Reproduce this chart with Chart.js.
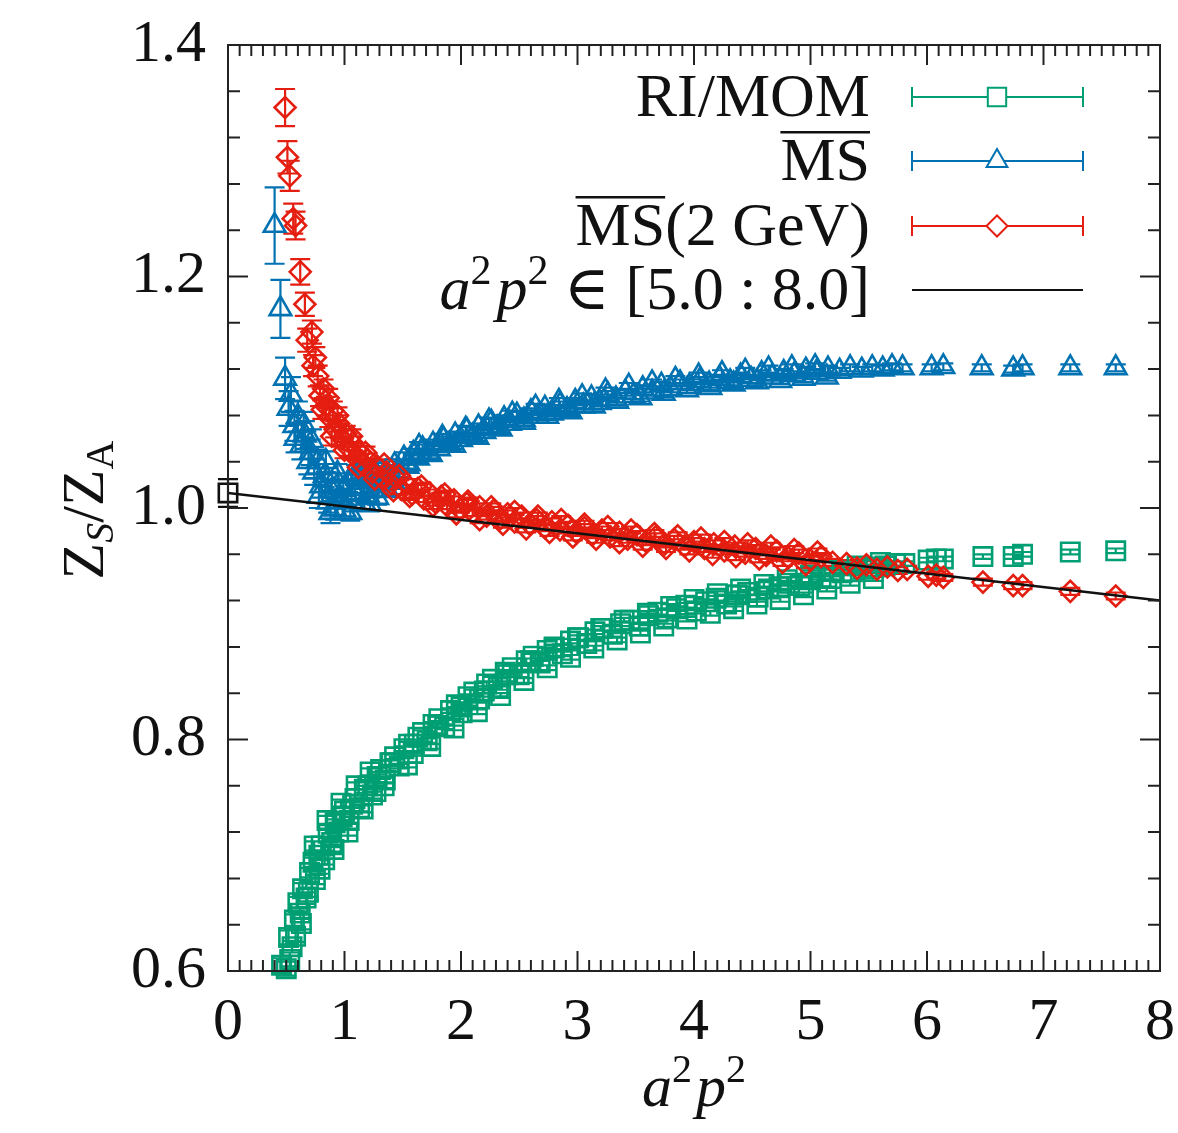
<!DOCTYPE html>
<html>
<head>
<meta charset="utf-8">
<script src="https://cdn.jsdelivr.net/npm/chart.js@4.4.0/dist/chart.umd.min.js"></script>
<style>
  html, body { margin: 0; padding: 0; background: #fff; }
</style>
</head>
<body>
<canvas id="myChart" width="1178" height="1133"></canvas>
<script>
// Data: [a2p2, value, error]
const riMom = [
  [0.46,0.605,0.006],[0.50,0.602,0.006],[0.53,0.610,0.006],[0.52,0.629,0.006],[0.55,0.621,0.005],
  [0.57,0.644,0.005],[0.60,0.659,0.005],[0.62,0.650,0.005],[0.64,0.671,0.005],[0.67,0.663,0.005],
  [0.70,0.685,0.004],[0.73,0.694,0.004],[0.75,0.679,0.004],[0.78,0.700,0.004],[0.80,0.708,0.004],
  [0.83,0.696,0.004],[0.86,0.719,0.004],[0.89,0.711,0.004],[0.92,0.728,0.003],[0.95,0.720,0.003],
  [0.98,0.733,0.003],[1.00,0.738,0.003],[1.04,0.730,0.003],[1.07,0.744,0.003],[1.09,0.749,0.003],
  [1.13,0.741,0.003],[1.17,0.757,0.003],[1.20,0.760,0.003],[1.24,0.752,0.003],[1.28,0.768,0.002],
  [1.31,0.774,0.002],[1.35,0.765,0.002],[1.39,0.780,0.002],[1.43,0.785,0.002],[1.47,0.777,0.002],
  [1.51,0.792,0.002],[1.55,0.796,0.002],[1.59,0.788,0.002],[1.63,0.802,0.002],[1.67,0.806,0.002],
  [1.71,0.799,0.002],[1.76,0.813,0.002],[1.81,0.818,0.002],[1.86,0.811,0.002],[1.91,0.825,0.002],
  [1.96,0.830,0.002],[2.01,0.823,0.002],[2.06,0.837,0.002],[2.11,0.841,0.002],[2.16,0.835,0.002],
  [2.22,0.848,0.002],[2.27,0.852,0.002],[2.32,0.845,0.002],[2.38,0.858,0.002],[2.44,0.862,0.002],
  [2.50,0.856,0.002],[2.56,0.868,0.002],[2.62,0.872,0.002],[2.68,0.866,0.002],[2.74,0.877,0.002],
  [2.80,0.880,0.002],[2.87,0.874,0.002],[2.94,0.885,0.002],[3.01,0.888,0.002],[3.08,0.883,0.002],
  [3.15,0.893,0.002],[3.22,0.896,0.002],[3.30,0.891,0.002],[3.37,0.900,0.002],[3.45,0.903,0.002],
  [3.53,0.898,0.002],[3.61,0.907,0.002],[3.69,0.910,0.002],[3.77,0.905,0.002],[3.85,0.913,0.002],
  [3.93,0.916,0.002],[4.02,0.911,0.002],[4.10,0.919,0.002],[4.19,0.922,0.002],[4.28,0.917,0.002],
  [4.37,0.925,0.002],[4.46,0.927,0.002],[4.55,0.923,0.002],[4.64,0.930,0.002],[4.73,0.932,0.002],
  [4.82,0.935,0.002],[4.91,0.933,0.002],[5.00,0.938,0.002],[5.09,0.940,0.002],[5.18,0.939,0.002],
  [5.27,0.944,0.002],[5.36,0.945,0.002],[5.45,0.947,0.002],[5.55,0.949,0.002],[5.64,0.950,0.002],
  [5.73,0.952,0.002],[5.81,0.952,0.002],[6.01,0.955,0.002],[6.08,0.956,0.002],[6.14,0.956,0.002],
  [6.48,0.958,0.002],[6.74,0.958,0.002],[6.82,0.960,0.002],[7.23,0.962,0.002],[7.62,0.963,0.002],
  // scatter around the band
  [0.58,0.630,0.005],[0.63,0.641,0.005],[0.69,0.668,0.004],[0.74,0.708,0.004],[0.79,0.688,0.004],
  [0.85,0.730,0.004],[0.91,0.705,0.004],[0.97,0.745,0.003],[1.03,0.720,0.003],[1.10,0.760,0.003],
  [1.16,0.740,0.003],[1.22,0.772,0.003],[1.27,0.755,0.003],
  [1.34,0.760,0.002],[1.54,0.778,0.002],[1.74,0.794,0.002],[1.94,0.810,0.002],[2.14,0.824,0.002],
  [2.34,0.838,0.002],[2.54,0.851,0.002],[2.74,0.862,0.002],[2.94,0.871,0.002],[3.14,0.879,0.002],
  [3.34,0.886,0.002],[3.54,0.892,0.002],[3.74,0.898,0.002],[3.94,0.904,0.002],[4.14,0.909,0.002],
  [4.34,0.913,0.002],[4.54,0.917,0.002],[4.74,0.921,0.002],[4.94,0.925,0.002],[5.14,0.930,0.002],
  [5.34,0.935,0.002],[5.54,0.939,0.002],
  [1.40,0.780,0.002],[1.60,0.796,0.002],[1.80,0.812,0.002],[2.00,0.828,0.002],[2.20,0.842,0.002],
  [2.40,0.856,0.002],[2.60,0.868,0.002],[2.80,0.879,0.002],[3.00,0.888,0.002],[3.20,0.896,0.002],
  [3.40,0.903,0.002],[3.60,0.909,0.002],[3.80,0.915,0.002],[4.00,0.921,0.002],[4.20,0.926,0.002],
  [4.40,0.930,0.002],[4.60,0.934,0.002],[4.80,0.938,0.002],[5.00,0.942,0.002],[5.20,0.946,0.002],
  [5.40,0.950,0.002],[5.60,0.953,0.002]
];

const msBar = [
  [0.40,1.244,0.033],[0.45,1.172,0.025],[0.49,1.112,0.018],[0.52,1.086,0.015],[0.54,1.098,0.015],
  [0.57,1.071,0.013],[0.60,1.079,0.013],[0.63,1.054,0.012],[0.66,1.063,0.012],[0.69,1.040,0.011],
  [0.71,1.048,0.011],[0.74,1.031,0.011],[0.77,1.040,0.010],[0.80,1.019,0.010],[0.83,1.028,0.010],
  [0.86,1.005,0.009],[0.89,1.015,0.009],[0.92,0.999,0.009],[0.95,1.021,0.009],[0.97,1.008,0.008],
  [1.00,0.998,0.008],[1.03,1.022,0.008],[1.06,1.005,0.008],[1.09,1.013,0.007],[1.12,1.026,0.007],
  [1.14,1.018,0.007],[1.17,1.004,0.007],[1.20,1.011,0.007],[1.23,1.023,0.006],[1.26,1.016,0.006],
  [1.29,1.033,0.006],[1.32,1.021,0.006],[1.35,1.030,0.006],[1.39,1.026,0.005],[1.43,1.037,0.005],
  [1.47,1.032,0.005],[1.51,1.043,0.005],[1.55,1.038,0.004],[1.59,1.047,0.004],[1.63,1.043,0.004],
  [1.67,1.051,0.004],[1.72,1.047,0.004],[1.76,1.055,0.004],[1.81,1.051,0.003],[1.85,1.059,0.003],
  [1.90,1.055,0.003],[1.95,1.063,0.003],[2.00,1.059,0.003],[2.05,1.067,0.003],[2.10,1.062,0.003],
  [2.15,1.070,0.003],[2.20,1.066,0.003],[2.26,1.074,0.003],[2.31,1.069,0.003],[2.37,1.077,0.003],
  [2.42,1.073,0.003],[2.48,1.080,0.003],[2.54,1.076,0.003],[2.60,1.083,0.003],[2.66,1.079,0.003],
  [2.72,1.086,0.003],[2.78,1.082,0.003],[2.85,1.089,0.003],[2.91,1.085,0.003],[2.98,1.092,0.003],
  [3.05,1.088,0.003],[3.12,1.095,0.003],[3.19,1.091,0.003],[3.26,1.098,0.003],[3.33,1.094,0.003],
  [3.41,1.100,0.003],[3.48,1.097,0.003],[3.56,1.103,0.003],[3.64,1.100,0.003],[3.72,1.106,0.003],
  [3.80,1.103,0.003],[3.88,1.108,0.003],[3.96,1.105,0.003],[4.05,1.110,0.003],[4.13,1.107,0.003],
  [4.22,1.112,0.003],[4.31,1.109,0.003],[4.40,1.114,0.003],[4.49,1.111,0.003],[4.58,1.116,0.003],
  [4.67,1.113,0.003],[4.77,1.117,0.003],[4.86,1.115,0.003],[4.96,1.119,0.003],[5.05,1.117,0.003],
  [5.15,1.120,0.003],[5.25,1.118,0.003],[5.34,1.121,0.003],[5.44,1.119,0.003],[5.53,1.121,0.003],
  [5.62,1.120,0.003],[5.70,1.122,0.003],[5.79,1.121,0.003],[6.04,1.121,0.003],[6.14,1.122,0.003],
  [6.47,1.121,0.003],[6.74,1.120,0.003],[6.82,1.121,0.003],[7.23,1.121,0.003],[7.62,1.121,0.003],
  // scatter around the band
  [0.58,1.060,0.012],[0.65,1.072,0.011],[0.72,1.058,0.010],[0.78,1.010,0.010],[0.84,1.040,0.009],
  [0.88,0.996,0.009],[0.94,1.030,0.008],[0.99,1.016,0.008],[1.05,0.996,0.007],[1.10,1.030,0.007],
  [1.16,1.028,0.006],[1.22,1.003,0.006],[1.28,1.009,0.006],[1.37,1.015,0.005],[1.42,1.022,0.005],
  [1.54,1.036,0.004],[1.74,1.046,0.003],[1.94,1.054,0.003],[2.14,1.061,0.003],[2.34,1.068,0.003],
  [2.54,1.074,0.003],[2.74,1.079,0.003],[2.94,1.083,0.003],[3.14,1.088,0.003],[3.34,1.092,0.003],
  [3.54,1.095,0.003],[3.74,1.099,0.003],[3.94,1.102,0.003],[4.14,1.104,0.003],[4.34,1.107,0.003],
  [4.54,1.109,0.003],[4.74,1.110,0.003],[4.94,1.112,0.003],[5.14,1.113,0.003],
  [1.64,1.053,0.004],[1.84,1.061,0.003],[2.04,1.068,0.003],[2.24,1.075,0.003],[2.44,1.081,0.003],
  [2.64,1.087,0.003],[2.84,1.092,0.003],[3.04,1.096,0.003],[3.24,1.101,0.003],[3.44,1.105,0.003],
  [3.64,1.108,0.003],[3.84,1.111,0.003],[4.04,1.114,0.003],[4.24,1.116,0.003],[4.44,1.118,0.003],
  [4.64,1.120,0.003],[4.84,1.121,0.003],[5.04,1.122,0.003]
];

const msBar2GeV = [
  [0.49,1.346,0.016],[0.51,1.303,0.014],[0.53,1.287,0.013],[0.56,1.250,0.013],[0.58,1.244,0.012],
  [0.62,1.204,0.011],[0.66,1.176,0.010],[0.68,1.145,0.010],[0.72,1.152,0.010],[0.73,1.123,0.009],
  [0.77,1.114,0.009],[0.79,1.097,0.009],[0.82,1.103,0.008],[0.84,1.088,0.008],[0.87,1.078,0.008],
  [0.90,1.084,0.008],[0.92,1.068,0.007],[0.95,1.073,0.007],[0.98,1.060,0.007],[1.01,1.064,0.007],
  [1.04,1.051,0.006],[1.07,1.056,0.006],[1.10,1.043,0.006],[1.13,1.048,0.006],[1.16,1.037,0.005],
  [1.20,1.042,0.005],[1.24,1.031,0.005],[1.28,1.036,0.005],[1.32,1.026,0.004],[1.36,1.031,0.004],
  [1.40,1.021,0.004],[1.44,1.026,0.004],[1.49,1.016,0.004],[1.53,1.021,0.004],[1.58,1.012,0.003],
  [1.63,1.017,0.003],[1.68,1.008,0.003],[1.73,1.013,0.003],[1.78,1.005,0.003],[1.83,1.010,0.003],
  [1.88,1.002,0.003],[1.94,1.007,0.003],[1.99,0.999,0.003],[2.05,1.004,0.003],[2.10,0.996,0.003],
  [2.16,1.001,0.003],[2.22,0.993,0.003],[2.28,0.998,0.003],[2.34,0.991,0.003],[2.40,0.995,0.003],
  [2.46,0.988,0.003],[2.52,0.993,0.003],[2.59,0.986,0.003],[2.65,0.990,0.003],[2.72,0.983,0.003],
  [2.78,0.988,0.003],[2.85,0.981,0.003],[2.92,0.985,0.003],[2.99,0.979,0.003],[3.06,0.983,0.003],
  [3.13,0.977,0.003],[3.21,0.981,0.003],[3.28,0.975,0.003],[3.36,0.979,0.003],[3.43,0.973,0.003],
  [3.51,0.977,0.003],[3.59,0.971,0.003],[3.67,0.975,0.003],[3.75,0.969,0.003],[3.83,0.973,0.003],
  [3.92,0.967,0.003],[4.00,0.971,0.003],[4.09,0.965,0.003],[4.17,0.969,0.003],[4.26,0.963,0.003],
  [4.35,0.967,0.003],[4.44,0.961,0.003],[4.53,0.965,0.003],[4.62,0.959,0.003],[4.71,0.963,0.003],
  [4.81,0.957,0.003],[4.90,0.961,0.003],[5.00,0.955,0.003],[5.09,0.958,0.003],[5.19,0.953,0.003],
  [5.31,0.952,0.003],[5.40,0.948,0.003],[5.48,0.951,0.003],[5.57,0.947,0.003],[5.66,0.949,0.003],
  [5.75,0.946,0.003],[5.83,0.947,0.003],[6.01,0.941,0.003],[6.08,0.942,0.003],[6.14,0.940,0.003],
  [6.48,0.936,0.003],[6.74,0.933,0.003],[6.82,0.933,0.003],[7.23,0.928,0.003],[7.62,0.924,0.003],
  // scatter around the band
  [0.75,1.130,0.009],[0.81,1.085,0.008],[0.86,1.095,0.008],[0.89,1.062,0.008],[0.94,1.080,0.007],
  [1.00,1.050,0.007],[1.06,1.062,0.006],[1.12,1.035,0.006],[1.18,1.048,0.005],[1.26,1.025,0.005],
  [1.34,1.038,0.004],[1.42,1.015,0.004],[1.47,1.028,0.004],
  [1.56,1.010,0.003],[1.76,1.002,0.003],[1.96,0.995,0.003],[2.16,0.990,0.003],[2.36,0.986,0.003],
  [2.56,0.982,0.003],[2.76,0.979,0.003],[2.96,0.975,0.003],[3.16,0.973,0.003],[3.36,0.970,0.003],
  [3.56,0.967,0.003],[3.76,0.965,0.003],[3.96,0.963,0.003],[4.16,0.960,0.003],[4.36,0.958,0.003],
  [4.56,0.956,0.003],[4.76,0.953,0.003],[4.96,0.951,0.003],
  [1.66,1.019,0.003],[1.86,1.012,0.003],[2.06,1.006,0.003],[2.26,1.001,0.003],[2.46,0.997,0.003],
  [2.66,0.993,0.003],[2.86,0.990,0.003],[3.06,0.986,0.003],[3.26,0.984,0.003],[3.46,0.981,0.003],
  [3.66,0.978,0.003],[3.86,0.976,0.003],[4.06,0.974,0.003],[4.26,0.971,0.003],[4.46,0.969,0.003],
  [4.66,0.967,0.003],[4.86,0.964,0.003],[5.06,0.962,0.003]
];

// extrapolated value at a2p2 = 0 and the linear fit over [5.0 : 8.0]
const extrapolated = [[0, 1.013, 0.012]];
const fitLine = [[0, 1.013], [8, 0.920]];

const xTicks = [0, 1, 2, 3, 4, 5, 6, 7, 8];
const yTickLabels = ['0.6', '0.8', '1.0', '1.2', '1.4'];

const GREEN = '#009e73';
const BLUE = '#0072b2';
const RED = '#e41e10';
const SERIF = '"Liberation Serif", "DejaVu Serif", serif';

const toPoints = arr => arr.map(d => ({ x: d[0], y: d[1] }));
const toErrors = arr => arr.map(d => d[2]);

// error bars, drawn under the markers
const errorBars = {
    id: 'errorBars',
    beforeDatasetsDraw(chart) {
        const { ctx, scales: { x, y } } = chart;
        chart.data.datasets.forEach(ds => {
            if (!ds.errors) return;
            ctx.save();
            ctx.strokeStyle = ds.borderColor;
            ctx.lineWidth = 2.2;
            ctx.beginPath();
            ds.data.forEach((p, i) => {
                const e = ds.errors[i];
                const px = x.getPixelForValue(p.x);
                const top = y.getPixelForValue(p.y + e);
                const bot = y.getPixelForValue(p.y - e);
                const cap = 10;
                ctx.moveTo(px, top); ctx.lineTo(px, bot);
                ctx.moveTo(px - cap, top); ctx.lineTo(px + cap, top);
                ctx.moveTo(px - cap, bot); ctx.lineTo(px + cap, bot);
            });
            ctx.stroke();
            ctx.restore();
        });
    }
};

// box with inward ticks on all four sides
const frame = {
    id: 'frame',
    afterDatasetsDraw(chart) {
        const { ctx, chartArea: a, scales: { x, y } } = chart;
        ctx.save();
        ctx.strokeStyle = '#222';
        ctx.lineWidth = 2;
        ctx.strokeRect(a.left, a.top, a.right - a.left, a.bottom - a.top);
        ctx.beginPath();
        for (let i = 0; i <= 80; i++) {
            const px = x.getPixelForValue(i / 10);
            const len = i % 10 === 0 ? 20 : 11;
            ctx.moveTo(px, a.bottom); ctx.lineTo(px, a.bottom - len);
            ctx.moveTo(px, a.top); ctx.lineTo(px, a.top + len);
        }
        for (let i = 0; i <= 20; i++) {
            const py = y.getPixelForValue(0.6 + i * 0.04);
            const len = i % 5 === 0 ? 20 : 12;
            ctx.moveTo(a.left, py); ctx.lineTo(a.left + len, py);
            ctx.moveTo(a.right, py); ctx.lineTo(a.right - len, py);
        }
        ctx.stroke();
        ctx.restore();
    }
};

function drawRuns(ctx, runs, x, y, align) {
    let w = 0;
    runs.forEach(r => { ctx.font = r.font; r.w = ctx.measureText(r.t).width; w += r.w; });
    let cx = align === 'right' ? x - w : align === 'center' ? x - w / 2 : x;
    runs.forEach(r => {
        ctx.font = r.font;
        ctx.fillText(r.t, cx, y + (r.dy || 0));
        if (r.over) ctx.fillRect(cx, y - r.over, r.w, 2.5);
        cx += r.w;
    });
}

const big = '60px ' + SERIF;
const bigIt = 'italic 60px ' + SERIF;
const small = '40px ' + SERIF;
const smallIt = 'italic 40px ' + SERIF;
const leg = '62px ' + SERIF;
const legIt = 'italic 62px ' + SERIF;
const legSmall = '42px ' + SERIF;

// legend and axis titles
const annotations = {
    id: 'annotations',
    afterDraw(chart) {
        const ctx = chart.ctx;
        const h = Chart.helpers;
        ctx.save();
        ctx.fillStyle = '#111';
        ctx.textBaseline = 'alphabetic';

        const rows = [
            { y: 97, runs: [{ t: 'RI/MOM', font: leg }], color: GREEN, style: 'rect', r: 13 },
            { y: 161, runs: [{ t: 'MS', font: leg, over: 49 }], color: BLUE, style: 'triangle', r: 12 },
            { y: 226, runs: [{ t: 'MS', font: leg, over: 49 }, { t: '(2 GeV)', font: leg }], color: RED, style: 'rectRot', r: 10.5 },
            { y: 290, runs: [{ t: 'a', font: legIt }, { t: '2', font: legSmall, dy: -25 }, { t: ' ', font: '20px ' + SERIF },
                             { t: 'p', font: legIt }, { t: '2', font: legSmall, dy: -25 }, { t: ' \u2208 [5.0 : 8.0]', font: leg }], color: null }
        ];
        rows.forEach(row => {
            ctx.fillStyle = '#111';
            drawRuns(ctx, row.runs, 870, row.y + 19, 'right');
            ctx.lineWidth = 2;
            if (row.color) {
                ctx.strokeStyle = row.color;
                ctx.beginPath();
                ctx.moveTo(912, row.y); ctx.lineTo(1083, row.y);
                ctx.moveTo(912, row.y - 10); ctx.lineTo(912, row.y + 10);
                ctx.moveTo(1083, row.y - 10); ctx.lineTo(1083, row.y + 10);
                ctx.stroke();
                ctx.fillStyle = '#fff';
                h.drawPoint(ctx, { pointStyle: row.style, radius: row.r, borderWidth: 2.5 }, 997, row.y);
            } else {
                ctx.strokeStyle = '#111';
                ctx.beginPath();
                ctx.moveTo(912, row.y); ctx.lineTo(1083, row.y);
                ctx.stroke();
            }
        });

        // x axis title
        ctx.fillStyle = '#111';
        drawRuns(ctx, [{ t: 'a', font: bigIt }, { t: '2', font: small, dy: -24 }, { t: ' ', font: '16px ' + SERIF },
                       { t: 'p', font: bigIt }, { t: '2', font: small, dy: -24 }], 694, 1106, 'center');

        // y axis title
        ctx.translate(85, 510);
        ctx.rotate(-Math.PI / 2);
        drawRuns(ctx, [{ t: 'Z', font: big }, { t: 'S', font: smallIt, dy: 10 }, { t: '/', font: big },
                       { t: 'Z', font: big }, { t: 'A', font: small, dy: 10 }], 0, 18, 'center');
        ctx.restore();
    }
};

const scatterSet = (label, arr, color, style, r, order) => ({
    label: label,
    type: 'scatter',
    data: toPoints(arr),
    errors: toErrors(arr),
    borderColor: color,
    backgroundColor: 'rgba(0,0,0,0)',
    pointStyle: style,
    pointRadius: r,
    pointHoverRadius: r,
    pointBorderWidth: 2.6,
    clip: false,
    order: order
});

const data = {
    datasets: [
        {
            label: 'fit',
            type: 'line',
            data: fitLine.map(d => ({ x: d[0], y: d[1] })),
            borderColor: '#111',
            borderWidth: 2.5,
            pointRadius: 0,
            order: 0
        },
        scatterSet('extrapolated', extrapolated, '#111', 'rect', 13, 0),
        scatterSet('MS(2 GeV)', msBar2GeV, RED, 'rectRot', 10.5, 1),
        scatterSet('MS', msBar, BLUE, 'triangle', 12.5, 2),
        scatterSet('RI/MOM', riMom, GREEN, 'rect', 13, 3)
    ]
};

const tickFont = { family: SERIF, size: 60 };

const options = {
    responsive: false,
    animation: false,
    events: [],
    layout: { padding: { top: 45, right: 18, left: 0, bottom: 0 } },
    plugins: { legend: { display: false }, tooltip: { enabled: false } },
    scales: {
        x: {
            type: 'linear',
            min: 0,
            max: 8,
            afterBuildTicks: s => { s.ticks = xTicks.map(v => ({ value: v })); },
            ticks: { font: tickFont, color: '#111', padding: 8, maxRotation: 0, callback: v => String(v) },
            grid: { display: false },
            border: { display: false },
            afterFit: s => { s.height = 162; s.paddingLeft = 0; s.paddingRight = 0; }
        },
        y: {
            type: 'linear',
            min: 0.6,
            max: 1.4,
            afterBuildTicks: s => { s.ticks = yTickLabels.map(t => ({ value: parseFloat(t) })); },
            ticks: { font: tickFont, color: '#111', padding: 14, callback: (v, i) => yTickLabels[i] },
            grid: { display: false },
            border: { display: false },
            afterFit: s => { s.width = 228; s.paddingTop = 0; s.paddingBottom = 0; }
        }
    }
};

const ctx = document.getElementById('myChart').getContext('2d');
const myChart = new Chart(ctx, {
    type: 'scatter',
    data: data,
    options: options,
    plugins: [errorBars, frame, annotations]
});
</script>
</body>
</html>
